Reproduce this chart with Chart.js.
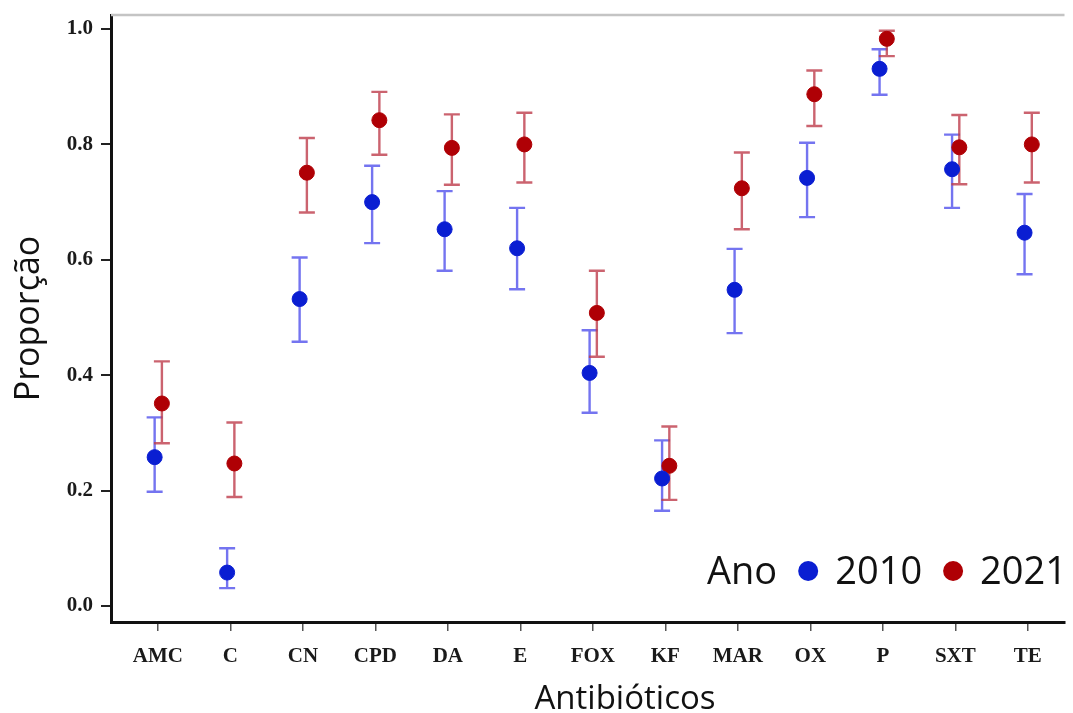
<!DOCTYPE html>
<html>
<head>
<meta charset="utf-8">
<script src="https://cdn.jsdelivr.net/npm/chart.js@4.4.1/dist/chart.umd.min.js"></script>
<style>
html,body{margin:0;padding:0;background:#fff;}
#wrap{width:1073px;height:713px;}
</style>
</head>
<body>
<div id="wrap"><canvas id="c" width="1073" height="713"></canvas></div>
<script>
const categories = ['AMC','C','CN','CPD','DA','E','FOX','KF','MAR','OX','P','SXT','TE'];
const p2010  = [0.258,0.058,0.532,0.700,0.653,0.620,0.404,0.221,0.548,0.742,0.931,0.757,0.647];
const lo2010 = [0.198,0.031,0.458,0.629,0.581,0.549,0.335,0.165,0.473,0.674,0.886,0.690,0.575];
const hi2010 = [0.327,0.100,0.604,0.763,0.719,0.690,0.478,0.287,0.619,0.803,0.965,0.817,0.714];
const p2021  = [0.351,0.247,0.751,0.842,0.794,0.800,0.508,0.243,0.724,0.887,0.983,0.795,0.800];
const lo2021 = [0.282,0.189,0.682,0.782,0.730,0.734,0.432,0.184,0.653,0.832,0.953,0.731,0.734];
const hi2021 = [0.424,0.318,0.811,0.891,0.852,0.855,0.581,0.311,0.786,0.928,0.997,0.851,0.855];
const yTicks = [0.0,0.2,0.4,0.6,0.8,1.0];
const seriesNames = ['2010','2021'];
const legendTitle = 'Ano';
const xTitle = 'Antibióticos';
const yTitle = 'Proporção';

const OFF = [-0.045, 0.055];
const pointColors = ['rgb(10,30,210)','rgb(175,0,5)'];
const barColors = ['rgba(70,70,235,0.75)','rgba(190,60,75,0.8)'];

function mk(vals, off){ return vals.map((v,i)=>({x:i+off, y:v})); }

const errorBars = {
  id:'errorBars',
  beforeDatasetsDraw(chart){
    const ctx = chart.ctx, xs = chart.scales.x, ys = chart.scales.y;
    const sets = [[lo2010,hi2010],[lo2021,hi2021]];
    ctx.save();
    sets.forEach((s,k)=>{
      ctx.strokeStyle = barColors[k];
      ctx.lineWidth = 2.4;
      s[0].forEach((lo,i)=>{
        const x = xs.getPixelForValue(i+OFF[k]);
        const y1 = ys.getPixelForValue(lo), y2 = ys.getPixelForValue(s[1][i]);
        ctx.beginPath();
        ctx.moveTo(x,y1); ctx.lineTo(x,y2);
        ctx.moveTo(x-8,y1); ctx.lineTo(x+8,y1);
        ctx.moveTo(x-8,y2); ctx.lineTo(x+8,y2);
        ctx.stroke();
      });
    });
    ctx.restore();
  },
  afterDraw(chart){
    const ctx = chart.ctx, a = chart.chartArea;
    ctx.save();
    ctx.strokeStyle = '#c4c4c4';
    ctx.lineWidth = 2.5;
    ctx.beginPath();
    ctx.moveTo(a.left, a.top); ctx.lineTo(a.right, a.top);
    ctx.stroke();
    // x axis title
    ctx.fillStyle = '#111';
    ctx.font = '33px "Open Sans"';
    ctx.textAlign = 'center';
    ctx.textBaseline = 'alphabetic';
    ctx.fillText(xTitle, 625, 709);
    // legend
    ctx.textAlign = 'left';
    ctx.font = '38px "Open Sans"';
    let x = 707, base = 584;
    ctx.fillText(legendTitle, x, base);
    x += ctx.measureText(legendTitle).width;
    seriesNames.forEach((n,k)=>{
      const cx = x + 31;
      ctx.fillStyle = pointColors[k];
      ctx.beginPath(); ctx.arc(cx, 571, 10, 0, Math.PI*2); ctx.fill();
      x = cx + 27;
      ctx.fillStyle = '#111';
      ctx.fillText(n, x, base);
      x += ctx.measureText(n).width;
    });
    ctx.restore();
  }
};

new Chart(document.getElementById('c'), {
  type:'scatter',
  data:{
    datasets:[
      {label:seriesNames[0], data:mk(p2010,OFF[0]), backgroundColor:pointColors[0], borderColor:pointColors[0], pointRadius:7.5, pointHoverRadius:7.5},
      {label:seriesNames[1], data:mk(p2021,OFF[1]), backgroundColor:pointColors[1], borderColor:pointColors[1], pointRadius:7.5, pointHoverRadius:7.5}
    ]
  },
  options:{
    responsive:false,
    animation:false,
    devicePixelRatio:1,
    layout:{padding:{top:15,right:0,left:0,bottom:0}},
    plugins:{legend:{display:false}, tooltip:{enabled:false}},
    scales:{
      x:{
        type:'linear', min:-0.647, max:12.506,
        afterBuildTicks(s){ s.ticks = categories.map((c,i)=>({value:i})); },
        afterFit(s){ s.height = 91; s.paddingLeft = 0; s.paddingRight = 0; },
        ticks:{ callback:(v,i)=>categories[i], autoSkip:false, maxRotation:0, padding:13,
          color:'#1a1a1a', font:{family:'"Liberation Serif"', size:21, weight:'bold'} },
        grid:{ drawOnChartArea:false, drawTicks:true, tickLength:9, color:'#555', lineWidth:1.5 },
        border:{ display:true, color:'#111', width:3 },
        title:{ display:false }
      },
      y:{
        min:-0.0277, max:1.0243,
        afterBuildTicks(s){ s.ticks = yTicks.map(v=>({value:v})); },
        afterFit(s){ s.width = 111; s.paddingTop = 0; s.paddingBottom = 0; },
        ticks:{ callback:(v)=>v.toFixed(1), padding:8,
          color:'#1a1a1a', font:{family:'"Liberation Serif"', size:21, weight:'bold'} },
        grid:{ drawOnChartArea:false, drawTicks:true, tickLength:10, color:'#222', lineWidth:2 },
        border:{ display:true, color:'#111', width:3 },
        title:{ display:true, text:yTitle, color:'#111', padding:{top:9,bottom:0},
          font:{family:'"Open Sans"', size:34} }
      }
    }
  },
  plugins:[errorBars]
});
</script>
</body>
</html>
